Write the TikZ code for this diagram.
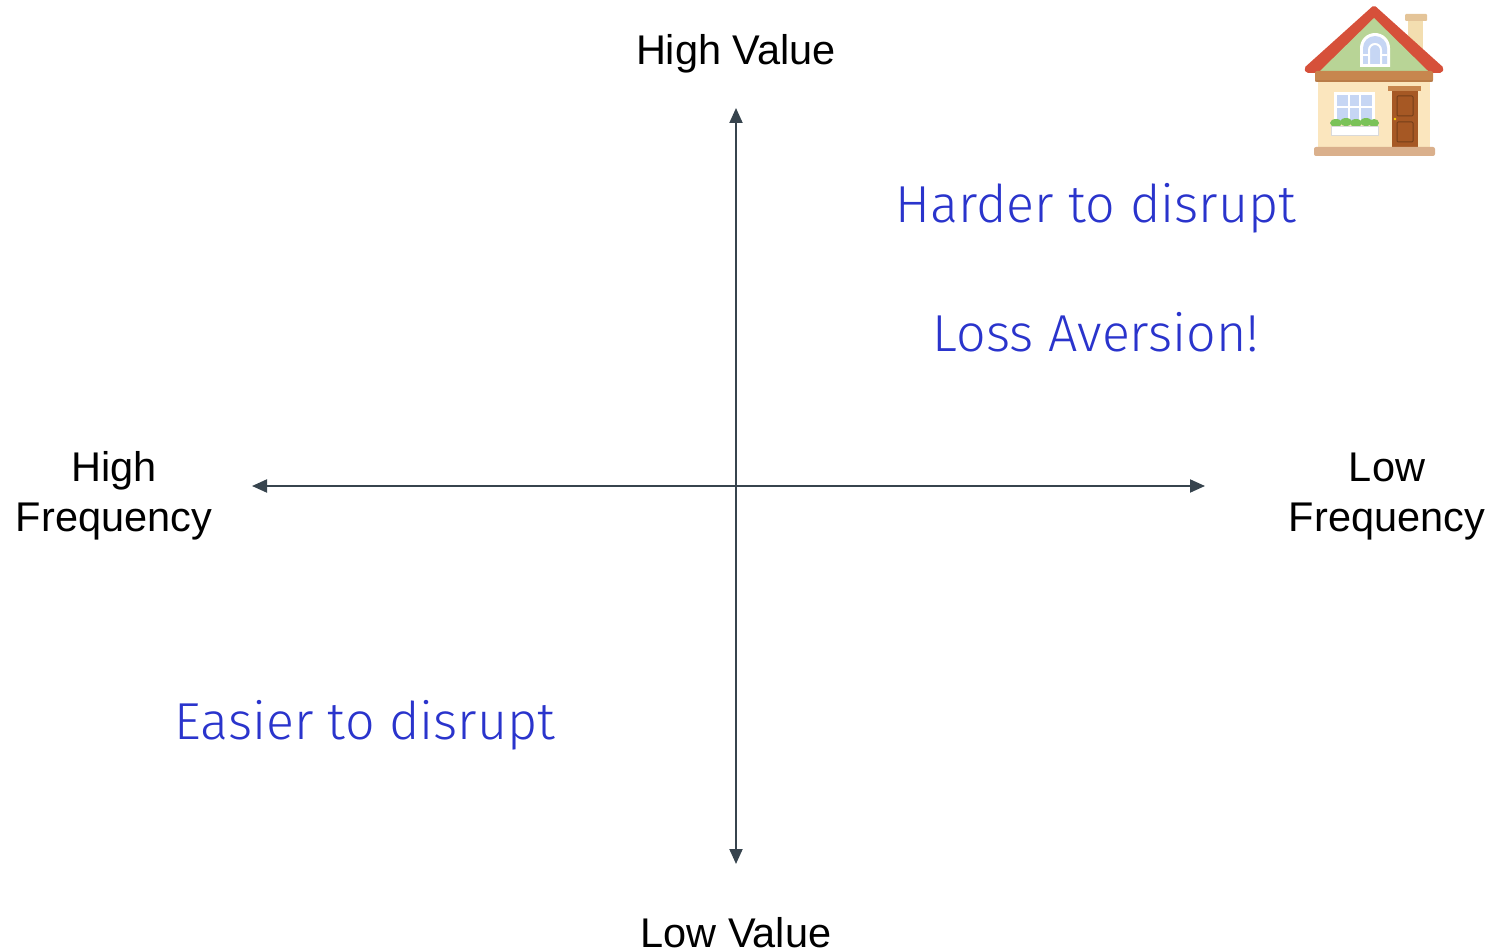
\documentclass[tikz,border=0pt]{standalone}
\usepackage{fontspec}
\setmainfont{Liberation Sans}
\newfontfamily\lightsans{Fira Sans Light}
\usetikzlibrary{arrows.meta}
\definecolor{axiscol}{RGB}{55,68,78}
\definecolor{notecol}{RGB}{42,52,204}
\definecolor{roofred}{RGB}{214,80,58}
\definecolor{gable}{RGB}{184,212,150}
\definecolor{wallcol}{RGB}{251,230,190}
\definecolor{beamcol}{RGB}{199,134,78}
\definecolor{doorcol}{RGB}{166,88,36}
\definecolor{glass}{RGB}{198,214,244}
\definecolor{leaf}{RGB}{122,194,88}
\definecolor{basecol}{RGB}{218,176,140}
\definecolor{chimcol}{RGB}{243,222,176}
\definecolor{chimcap}{RGB}{228,196,152}
\tikzset{
  axis/.style={draw=axiscol, line width=2pt, {Triangle[length=15pt,width=13pt]}-{Triangle[length=15pt,width=13pt]}},
  axislabel/.style={font=\fontsize{41.5}{50}\selectfont, text=black, align=center, inner sep=0pt},
  note/.style={font=\lightsans\fontsize{52}{60}\selectfont, text=notecol, inner sep=0pt, anchor=base}
}
\begin{document}
\begin{tikzpicture}[x=1pt,y=-1pt]
\useasboundingbox (0,0) rectangle (1497,952);

% axis end points
\coordinate (top) at (736,108);
\coordinate (bottom) at (736,864);
\coordinate (left) at (252,486);
\coordinate (right) at (1205,486);
\draw[axis] (bottom) -- (top);
\draw[axis] (left) -- (right);

% axis labels
\node[axislabel, anchor=base] (hv) at (736,65) {High Value};
\node[axislabel, anchor=base] (lv) at (736,947) {Low Value};
\node[axislabel, anchor=base] (hf1) at (114,481) {High};
\node[axislabel, anchor=base] (hf2) at (114,531) {Frequency};
\node[axislabel, anchor=base] (lf1) at (1387,481) {Low};
\node[axislabel, anchor=base] (lf2) at (1387,531) {Frequency};

% quadrant notes
\node[note] (hard) at (1096,223) {Harder to disrupt};
\node[note] (loss) at (1096,351) {Loss Aversion!};
\node[note] (easy) at (365,739) {Easier to disrupt};

% house icon
\begin{scope}
  % chimney
  \fill[chimcol] (1408,18) rectangle (1423,52);
  \fill[chimcap, rounded corners=1pt] (1405,14) rectangle (1427,21);
  % roof and gable
  \fill[roofred, rounded corners=2pt] (1374,5) -- (1444,68) -- (1442,73) -- (1306,73) -- (1304,68) -- cycle;
  \fill[gable] (1374,18) -- (1428,71) -- (1320,71) -- cycle;
  % attic window
  \fill[white] (1360,67) -- (1360,48) arc[start angle=180, end angle=360, radius=15] -- (1390,67) -- cycle;
  \fill[glass] (1363,64) -- (1363,48) arc[start angle=180, end angle=360, radius=12] -- (1387,64) -- cycle;
  \draw[white, line width=2pt] (1369,64) -- (1369,50) arc[start angle=180, end angle=360, radius=6] -- (1381,64);
  \fill[white] (1363,54) rectangle (1369,56);
  \fill[white] (1381,54) rectangle (1387,56);
  % walls
  \fill[wallcol] (1318,80) rectangle (1430,148);
  \fill[beamcol, rounded corners=2pt] (1315,71) rectangle (1433,82);
  \fill[beamcol!80!black, opacity=0.35] (1315,80) rectangle (1433,82);
  % window
  \fill[white] (1334,92) rectangle (1375,123);
  \fill[glass] (1337,95) rectangle (1372,121);
  \fill[white] (1348,95) rectangle (1350,121);
  \fill[white] (1359,95) rectangle (1361,121);
  \fill[white] (1337,106) rectangle (1372,108);
  \fill[leaf] (1336,123) ellipse[x radius=6, y radius=4];
  \fill[leaf] (1346,122) ellipse[x radius=6, y radius=4];
  \fill[leaf] (1356,123) ellipse[x radius=6, y radius=4];
  \fill[leaf] (1366,122) ellipse[x radius=6, y radius=4];
  \fill[leaf] (1374,123) ellipse[x radius=5, y radius=4];
  \fill[white, draw=black!15, line width=0.5pt] (1331,126) rectangle (1378,135);
  % door
  \fill[beamcol] (1388,86) rectangle (1421,91);
  \fill[doorcol] (1392,91) rectangle (1418,148);
  \draw[doorcol!70!black, line width=1pt, rounded corners=1pt] (1397,96) rectangle (1413,116);
  \draw[doorcol!70!black, line width=1pt, rounded corners=1pt] (1397,122) rectangle (1413,142);
  \fill[yellow!70!orange] (1395,119) circle[radius=1.4];
  % foundation
  \fill[basecol, rounded corners=2pt] (1314,147) rectangle (1435,156);
\end{scope}
\end{tikzpicture}
\end{document}
